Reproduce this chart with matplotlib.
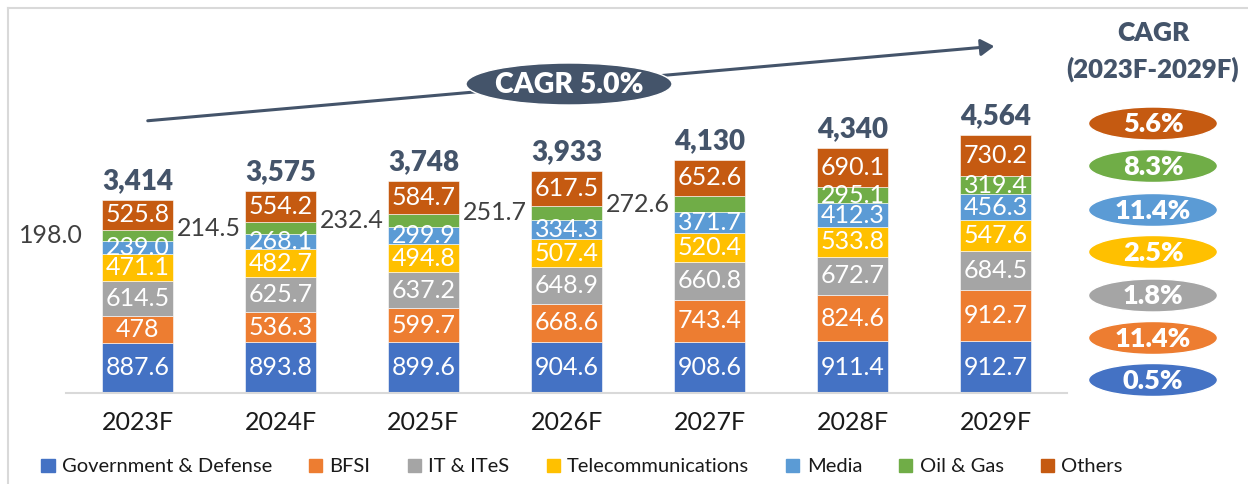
import matplotlib
matplotlib.use("Agg")
import matplotlib.pyplot as plt
from matplotlib.patches import Ellipse, Patch, FancyArrowPatch
from matplotlib.lines import Line2D
import numpy as np

plt.rcParams['font.family'] = ['Lato', 'DejaVu Sans']

years = ['2023F', '2024F', '2025F', '2026F', '2027F', '2028F', '2029F']
series = ['Government & Defense', 'BFSI', 'IT & ITeS', 'Telecommunications', 'Media', 'Oil & Gas', 'Others']
gov = [887.6, 893.8, 899.6, 904.6, 908.6, 911.4, 912.7]
bfsi = [478, 536.3, 599.7, 668.6, 743.4, 824.6, 912.7]
it = [614.5, 625.7, 637.2, 648.9, 660.8, 672.7, 684.5]
telecom = [471.1, 482.7, 494.8, 507.4, 520.4, 533.8, 547.6]
media = [239.0, 268.1, 299.9, 334.3, 371.7, 412.3, 456.3]
oil = [198.0, 214.5, 232.4, 251.7, 272.6, 295.1, 319.4]
others = [525.8, 554.2, 584.7, 617.5, 652.6, 690.1, 730.2]
totals = [3414, 3575, 3748, 3933, 4130, 4340, 4564]
seg_labels = [['887.6', '893.8', '899.6', '904.6', '908.6', '911.4', '912.7'],
              ['478', '536.3', '599.7', '668.6', '743.4', '824.6', '912.7'],
              ['614.5', '625.7', '637.2', '648.9', '660.8', '672.7', '684.5'],
              ['471.1', '482.7', '494.8', '507.4', '520.4', '533.8', '547.6'],
              ['239.0', '268.1', '299.9', '334.3', '371.7', '412.3', '456.3'],
              ['198.0', '214.5', '232.4', '251.7', '272.6', '295.1', '319.4'],
              ['525.8', '554.2', '584.7', '617.5', '652.6', '690.1', '730.2']]
cagr = ['0.5%', '11.4%', '1.8%', '2.5%', '11.4%', '8.3%', '5.6%']
total_cagr = 'CAGR 5.0%'

colors = ['#4472C4', '#ED7D31', '#A5A5A5', '#FFC000', '#5B9BD5', '#70AD47', '#C55A11']
dark = '#44546A'

W, H = 1248, 484
def fx(x): return x / W
def fy(y): return 1 - y / H

fig = plt.figure(figsize=(W / 100, H / 100), dpi=100)
ax = fig.add_axes([fx(66), fy(393), fx(1067) - fx(66), fy(8) - fy(393)])

data = [gov, bfsi, it, telecom, media, oil, others]
x = np.arange(len(years))
bottom = np.zeros(len(years))
for k, vals in enumerate(data):
    vals = np.array(vals)
    ax.bar(x, vals, 0.5, bottom=bottom, color=colors[k], edgecolor='white', linewidth=0.4)
    for i in range(len(years)):
        yc = bottom[i] + vals[i] / 2
        if k == 5 and i < 5:
            off = 0.13 if i == 0 else 0.025
            ax.text(i - 0.25 - off, yc, seg_labels[k][i], ha='right', va='center',
                    fontsize=18, color='#404040')
        else:
            ax.text(i, yc, seg_labels[k][i], ha='center', va='center',
                    fontsize=18, color='white')
    bottom += vals

for i, t in enumerate(totals):
    ax.annotate(f'{t:,}', (i, bottom[i]), xytext=(0, 4), textcoords='offset points',
                ha='center', va='bottom', fontsize=20, fontweight='heavy', color=dark)

ax.set_xlim(-0.5, 6.5)
ax.set_ylim(0, 385 / 0.05653)
ax.set_xticks(x)
ax.set_xticklabels(years, fontsize=18, color='#1a1a1a')
ax.tick_params(axis='x', length=0, pad=13)
ax.set_yticks([])
for s in ['top', 'left', 'right']:
    ax.spines[s].set_visible(False)
ax.spines['bottom'].set_color('#D9D9D9')
ax.spines['bottom'].set_linewidth(1.5)

# frame
fig.add_artist(Line2D([fx(8), 1], [fy(8), fy(8)], color='#D9D9D9', lw=1.5))
fig.add_artist(Line2D([fx(8), fx(8)], [fy(8), 0], color='#D9D9D9', lw=1.5))

# overall CAGR arrow
arr = FancyArrowPatch((fx(145), fy(121)), (fx(997), fy(46)), transform=fig.transFigure,
                      arrowstyle='-|>,head_length=8,head_width=5', color=dark, lw=2.2,
                      mutation_scale=1)
fig.add_artist(arr)
fig.add_artist(Ellipse((fx(569), fy(84)), 206 / W, 42 / H, transform=fig.transFigure,
                       facecolor=dark, edgecolor='white', lw=1))
fig.text(fx(569), fy(85), total_cagr, ha='center', va='center', fontsize=20.5,
         fontweight='heavy', color='white')

# segment CAGR column
fig.text(fx(1153), fy(33), 'CAGR', ha='center', va='center', fontsize=19,
         fontweight='heavy', color=dark)
fig.text(fx(1153), fy(69), '(2023F-2029F)', ha='center', va='center', fontsize=18.5,
         fontweight='heavy', color=dark)
ycent = [380, 338, 295.5, 252, 210, 166, 123.5]
for k in range(len(series)):
    fig.add_artist(Ellipse((fx(1153), fy(ycent[k])), 129 / W, 33 / H,
                           transform=fig.transFigure, facecolor=colors[k], edgecolor='white', lw=1))
    fig.text(fx(1153), fy(ycent[k] + 1), cagr[k], ha='center', va='center', fontsize=19.5,
             fontweight='heavy', color='white')

handles = [Patch(color=c) for c in colors]
fig.legend(handles, series, loc='center', bbox_to_anchor=(fx(582), fy(467)), ncol=7,
           frameon=False, fontsize=14.5, handlelength=0.65, handleheight=0.65,
           handletextpad=0.36, columnspacing=1.85, labelcolor='#1a1a1a')

fig.savefig('out.png', dpi=100)
